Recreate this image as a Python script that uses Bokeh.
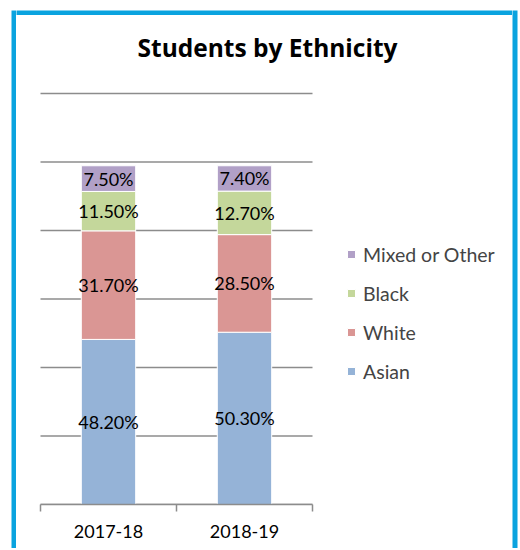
from bokeh.plotting import figure
from bokeh.models import (ColumnDataSource, FixedTicker, Legend, LegendItem, Range1d)
from bokeh.layouts import row, column
from bokeh.core.properties import value
from bokeh.embed import file_html
from bokeh.resources import INLINE
import numpy as np

# ---- data ----
years = ["2017-18", "2018-19"]
asian = [48.2, 50.3]
white = [31.7, 28.5]
black = [11.5, 12.7]
mixed = [7.5, 7.4]
series_keys = ["Asian", "White", "Black", "Mixed"]
series_labels = ["Asian", "White", "Black", "Mixed or Other"]
colors = ["#95B3D7", "#DA9694", "#C4D79B", "#B1A0C7"]
y_ticks = [0, 20, 40, 60, 80, 100, 120]
title_text = "Students by Ethnicity"

FONT = "Lato"
TITLE_FONT = "Open Sans"
GRID = "#8C8C8C"
BORDER = "#0AA3DF"

# ---- layout geometry (pixels) ----
FIG_W, FIG_H = 496, 533          # main figure (inside the blue frame)
TOP = 60                          # space above plotting frame (title)
BOTTOM = 44                       # axis panel
PLOT_LEFT, PLOT_W = 24, 272       # category area inside frame
FRAME_H = FIG_H - TOP - BOTTOM
PX_PER_UNIT = 411 / y_ticks[-1]

n = len(years)
x_pos = [i + 0.5 for i in range(n)]
px_per_cat = PLOT_W / n
x_start = -PLOT_LEFT / px_per_cat
x_end = (FIG_W - PLOT_LEFT) / px_per_cat
y_end = FRAME_H / PX_PER_UNIT

src = ColumnDataSource(dict(x=x_pos, Asian=asian, White=white, Black=black, Mixed=mixed))

p = figure(width=FIG_W, height=FIG_H, output_backend="svg", toolbar_location=None,
           x_range=Range1d(x_start, x_end), y_range=Range1d(0, y_end),
           y_axis_location=None,
           min_border_left=0, min_border_right=0, min_border_top=TOP, min_border_bottom=BOTTOM)
p.outline_line_color = None
p.background_fill_color = "white"
p.border_fill_color = "white"
p.xgrid.visible = False
p.ygrid.visible = False

# title
p.title.text = title_text
p.title.text_font = TITLE_FONT
p.title.text_font_style = "bold"
p.title.text_font_size = "24.5px"
p.title.text_color = "black"
p.title.align = "left"
p.title.offset = 121
p.title.standoff = 24

# horizontal gridlines over the category area
p.segment(x0=0, x1=n, y0=y_ticks, y1=y_ticks, line_color=GRID, line_width=1.5)

# x axis: labels at centres, tick marks at category boundaries
ax = p.xaxis[0]
ax.bounds = (0, n)
ax.ticker = FixedTicker(ticks=x_pos, minor_ticks=list(range(n + 1)))
ax.major_label_overrides = {x: y for x, y in zip(x_pos, years)}
ax.axis_line_color = GRID
ax.axis_line_width = 1.5
ax.major_tick_out = 0
ax.major_tick_in = 0
ax.minor_tick_out = 7
ax.minor_tick_in = 0
ax.minor_tick_line_color = GRID
ax.minor_tick_line_width = 1.5
ax.major_label_text_font = FONT
ax.major_label_text_font_size = "18px"
ax.major_label_text_color = "black"
ax.major_label_standoff = 13

# bars
rs = p.vbar_stack(series_keys, x="x", width=0.4, source=src,
                  fill_color=colors, line_color="white", line_width=1)

# value labels
stack = np.array([asian, white, black, mixed])
centers = np.cumsum(stack, axis=0) - stack / 2
lx, ly, lt = [], [], []
for i in range(stack.shape[0]):
    for j in range(stack.shape[1]):
        lx.append(x_pos[j])
        ly.append(float(centers[i, j]))
        lt.append(f"{stack[i, j]:.2f}%")
p.text(x="x", y="y", text="t", source=ColumnDataSource(dict(x=lx, y=ly, t=lt)),
       text_align="center", text_baseline="middle", text_font=value(FONT),
       text_font_size="18px", text_color="black")

# legend (inside the wide frame, right of the bars)
items = [LegendItem(label=series_labels[i], renderers=[rs[i]]) for i in reversed(range(len(rs)))]
legend = Legend(items=items, location=(320, 111), glyph_width=10, glyph_height=10,
                label_text_font=FONT, label_text_font_size="19.5px", label_height=24,
                spacing=15, padding=10, margin=0, label_standoff=7,
                border_line_alpha=0, background_fill_alpha=0)
p.add_layout(legend, "center")


# blue frame strips
def strip(w, h, l=0, r=0, t=0, b=0):
    f = figure(width=w, height=h, output_backend="svg", toolbar_location=None,
               x_axis_location=None, y_axis_location=None,
               x_range=Range1d(0, 1), y_range=Range1d(0, 1),
               min_border_left=l, min_border_right=r, min_border_top=t, min_border_bottom=b)
    f.grid.visible = False
    f.outline_line_color = None
    f.background_fill_color = BORDER
    f.border_fill_color = "white"
    return f


left_strip = strip(16, 15 + FIG_H, l=11, t=10)
top_strip = strip(FIG_W, 15, t=10)
right_strip = strip(6, 15 + FIG_H, r=1, t=10)

layout = row(left_strip, column(top_strip, p), right_strip)

open("out.html", "w").write(file_html(layout, INLINE))
